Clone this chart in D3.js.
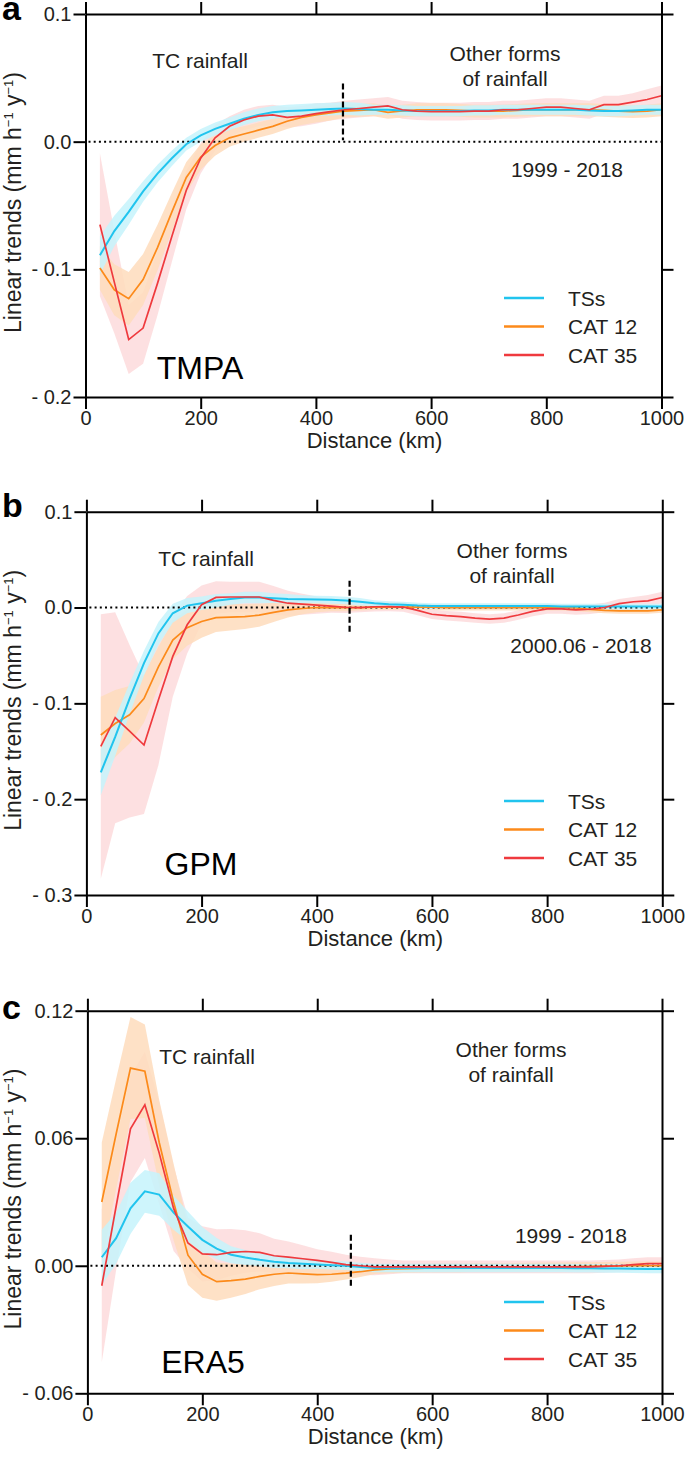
<!DOCTYPE html>
<html><head><meta charset="utf-8">
<script src="https://cdn.jsdelivr.net/npm/d3@7"></script>
<style>body{margin:0;background:#fff}svg{display:block}text{font-family:"Liberation Sans",Arial,sans-serif;fill:#231f20}</style>
</head><body><svg id="chart" width="685" height="1468"></svg>
<script>
// ---------- data ----------
const distance = [25,50,75,100,125,150,175,200,225,250,275,300,325,350,375,400,425,450,475,500,525,550,575,600,625,650,675,700,725,750,775,800,825,850,875,900,925,950,975,1000];
const xTicks = [0,200,400,600,800,1000];
const xTickLabels = ["0","200","400","600","800","1000"];
const seriesNames = ["TSs","CAT 12","CAT 35"];

// Panel a: TMPA
const tmpaTS   = [-0.089,-0.070,-0.055,-0.039,-0.025,-0.013,-0.002,0.005,0.010,0.014,0.018,0.021,0.023,0.024,0.0245,0.025,0.0255,0.026,0.0255,0.025,0.025,0.0245,0.024,0.024,0.024,0.024,0.0245,0.0245,0.025,0.025,0.025,0.025,0.025,0.025,0.0245,0.024,0.024,0.0245,0.025,0.025];
const tmpaTSerr= [0.015,0.012,0.010,0.008,0.007,0.006,0.005,0.005,0.005,0.005,0.005,0.005,0.005,0.005,0.005,0.005,0.005,0.005,0.005,0.004,0.004,0.004,0.004,0.004,0.004,0.004,0.004,0.004,0.004,0.004,0.004,0.004,0.004,0.004,0.004,0.004,0.004,0.004,0.004,0.004];
const tmpaC12  = [-0.099,-0.116,-0.123,-0.108,-0.083,-0.055,-0.028,-0.012,-0.003,0.003,0.006,0.009,0.012,0.016,0.019,0.021,0.0225,0.024,0.0245,0.025,0.023,0.024,0.025,0.025,0.025,0.0245,0.024,0.024,0.024,0.0245,0.025,0.025,0.025,0.025,0.025,0.0245,0.024,0.0235,0.024,0.025];
const tmpaC12err=[0.017,0.020,0.021,0.020,0.018,0.015,0.012,0.010,0.008,0.007,0.006,0.006,0.006,0.006,0.006,0.006,0.006,0.005,0.005,0.005,0.005,0.005,0.005,0.005,0.005,0.005,0.005,0.005,0.005,0.005,0.005,0.005,0.005,0.005,0.005,0.005,0.005,0.005,0.005,0.005];
const tmpaC35  = [-0.065,-0.110,-0.155,-0.146,-0.111,-0.074,-0.038,-0.013,0.003,0.012,0.017,0.020,0.021,0.019,0.020,0.022,0.0235,0.025,0.026,0.027,0.028,0.025,0.024,0.0235,0.0235,0.0235,0.024,0.024,0.025,0.025,0.026,0.027,0.027,0.026,0.025,0.029,0.029,0.031,0.033,0.036];
const tmpaC35err=[0.056,0.040,0.027,0.028,0.025,0.020,0.015,0.012,0.010,0.008,0.008,0.008,0.008,0.008,0.008,0.008,0.007,0.007,0.007,0.007,0.007,0.007,0.007,0.007,0.007,0.007,0.007,0.007,0.007,0.007,0.007,0.007,0.007,0.007,0.007,0.007,0.007,0.007,0.008,0.008];

// Panel b: GPM
const gpmTS    = [-0.172,-0.135,-0.095,-0.058,-0.027,-0.006,0.002,0.0045,0.007,0.009,0.0105,0.0105,0.0098,0.009,0.0087,0.0084,0.008,0.0073,0.006,0.0045,0.0035,0.003,0.002,0.0015,0.0015,0.0015,0.0015,0.0015,0.0015,0.0015,0.0015,0.0015,0.001,0.001,0.001,0.001,0.001,0.001,0.001,0.001];
const gpmTSerr = [0.024,0.020,0.016,0.013,0.012,0.010,0.008,0.007,0.007,0.006,0.006,0.006,0.005,0.005,0.004,0.004,0.004,0.004,0.004,0.003,0.003,0.003,0.003,0.003,0.003,0.003,0.003,0.003,0.003,0.003,0.003,0.003,0.003,0.003,0.003,0.003,0.003,0.003,0.003,0.003];
const gpmC12   = [-0.133,-0.121,-0.112,-0.095,-0.062,-0.034,-0.021,-0.0146,-0.0105,-0.010,-0.0095,-0.008,-0.005,-0.0025,-0.001,0,0,0,0,0.0005,0.0005,0.0005,0.0005,0.0005,0,0,0,0,0,0,0,0,0,-0.0005,-0.002,-0.003,-0.0035,-0.0035,-0.0035,-0.0025];
const gpmC12err= [0.040,0.035,0.030,0.025,0.021,0.020,0.019,0.017,0.015,0.014,0.013,0.012,0.010,0.008,0.006,0.005,0.004,0.004,0.003,0.003,0.003,0.003,0.003,0.003,0.003,0.003,0.003,0.003,0.003,0.003,0.003,0.003,0.003,0.003,0.003,0.003,0.003,0.003,0.003,0.003];
const gpmC35   = [-0.145,-0.115,-0.129,-0.1435,-0.0965,-0.051,-0.018,0.003,0.0105,0.011,0.011,0.011,0.0075,0.0045,0.0035,0.0025,0.0015,0.0003,0,0.0008,0.001,0.0005,-0.003,-0.007,-0.0085,-0.0095,-0.011,-0.012,-0.011,-0.0078,-0.004,-0.0015,-0.0015,-0.0025,-0.0018,0,0.004,0.006,0.007,0.0105];
const gpmC35err= [0.138,0.110,0.090,0.072,0.068,0.042,0.030,0.020,0.017,0.016,0.016,0.016,0.015,0.013,0.011,0.009,0.007,0.006,0.005,0.005,0.005,0.005,0.005,0.005,0.005,0.005,0.005,0.005,0.005,0.005,0.005,0.005,0.005,0.005,0.005,0.005,0.005,0.005,0.006,0.006];

// Panel c: ERA5
const era5TS   = [0.004,0.013,0.027,0.035,0.0335,0.025,0.0185,0.0122,0.0081,0.0052,0.0039,0.0028,0.0019,0.0013,0.0009,0.0006,0.0003,0,-0.0006,-0.001,-0.001,-0.001,-0.001,-0.001,-0.001,-0.001,-0.001,-0.001,-0.001,-0.001,-0.001,-0.001,-0.001,-0.0012,-0.0012,-0.0013,-0.0013,-0.0014,-0.0015,-0.0015];
const era5TSerr= [0.013,0.012,0.012,0.010,0.010,0.008,0.007,0.006,0.005,0.004,0.0035,0.003,0.003,0.0025,0.0025,0.002,0.002,0.002,0.002,0.002,0.002,0.002,0.002,0.002,0.002,0.002,0.002,0.002,0.002,0.002,0.002,0.002,0.002,0.002,0.002,0.002,0.002,0.002,0.002,0.002];
const era5C12  = [0.030,0.062,0.093,0.0915,0.058,0.030,0.005,-0.004,-0.0075,-0.007,-0.0063,-0.005,-0.004,-0.0034,-0.0038,-0.0042,-0.004,-0.0035,-0.0028,-0.0019,-0.0015,-0.0013,-0.0012,-0.001,-0.001,-0.001,-0.0008,-0.0008,-0.0008,-0.0007,-0.0006,-0.0005,-0.0005,-0.0004,-0.0003,-0.0002,-0.0001,0,0,0];
const era5C12err=[0.028,0.026,0.024,0.022,0.020,0.018,0.014,0.011,0.009,0.008,0.007,0.006,0.0055,0.005,0.0045,0.004,0.0035,0.003,0.0025,0.002,0.002,0.002,0.002,0.002,0.002,0.002,0.002,0.002,0.002,0.002,0.002,0.002,0.002,0.002,0.002,0.002,0.002,0.002,0.002,0.002];
const era5C35  = [-0.0094,0.028,0.0644,0.0757,0.053,0.027,0.0107,0.0056,0.0052,0.0063,0.0067,0.0063,0.0047,0.0041,0.0033,0.0025,0.0016,0.0005,0,-0.0005,-0.0005,-0.0005,-0.0005,-0.0005,-0.0005,-0.0005,-0.0005,-0.0005,-0.0005,-0.0005,-0.0005,-0.0005,-0.0005,-0.0005,-0.0005,-0.0003,0,0.0005,0.001,0.001];
const era5C35err=[0.036,0.030,0.025,0.025,0.024,0.020,0.012,0.013,0.012,0.011,0.010,0.009,0.008,0.0073,0.0063,0.0053,0.005,0.0047,0.0043,0.004,0.0035,0.003,0.003,0.003,0.003,0.003,0.003,0.003,0.003,0.003,0.003,0.003,0.003,0.003,0.003,0.003,0.003,0.003,0.003,0.003];

const tmpaYTicks = [0.1,0,-0.1,-0.2], tmpaYLabels = ["0.1","0.0","- 0.1","- 0.2"];
const gpmYTicks  = [0.1,0,-0.1,-0.2,-0.3], gpmYLabels = ["0.1","0.0","- 0.1","- 0.2","- 0.3"];
const era5YTicks = [0.12,0.06,0,-0.06], era5YLabels = ["0.12","0.06","0.00","- 0.06"];

// ---------- styles / layout ----------
const lineColors = ["#21c4ee","#fc8a1a","#ef3a3e"];
const bandColors = ["#c6f3fc","#fedcbc","#fddadc"];

const panels = [
  {letter:"a", letterY:20, name:"TMPA", nameX:200, nameY:379, period:"1999 - 2018", periodX:567, periodY:177,
   left:85.5, right:661.5, top:14, bottom:397, ydom:[-0.2,0.1], yticks:tmpaYTicks, ylabels:tmpaYLabels,
   tcX:200, tcY:68, otherX:505, otherY:61, divider:[447,0.0456,0.0012], legendY:298,
   means:[tmpaTS,tmpaC12,tmpaC35], errs:[tmpaTSerr,tmpaC12err,tmpaC35err]},
  {letter:"b", letterY:517, name:"GPM", nameX:201, nameY:875, period:"2000.06 - 2018", periodX:581, periodY:653,
   left:86.4, right:662.3, top:511.7, bottom:895, ydom:[-0.3,0.1], yticks:gpmYTicks, ylabels:gpmYLabels,
   tcX:206, tcY:566, otherX:512, otherY:558, divider:[457,0.028,-0.0285], legendY:801,
   means:[gpmTS,gpmC12,gpmC35], errs:[gpmTSerr,gpmC12err,gpmC35err]},
  {letter:"c", letterY:1019, name:"ERA5", nameX:203, nameY:1373, period:"1999 - 2018", periodX:571, periodY:1243,
   left:87.4, right:662, top:1010.7, bottom:1393.3, ydom:[-0.06,0.12], yticks:era5YTicks, ylabels:era5YLabels,
   tcX:207, tcY:1064, otherX:511, otherY:1057, divider:[458.5,0.0146,-0.0105], legendY:1302,
   means:[era5TS,era5C12,era5C35], errs:[era5TSerr,era5C12err,era5C35err]}
];

const svg = d3.select("#chart");

panels.forEach(p => {
  const g = svg.append("g");
  const x = d3.scaleLinear().domain([0,1000]).range([p.left,p.right]);
  const y = d3.scaleLinear().domain(p.ydom).range([p.bottom,p.top]);

  // bands (drawn red, orange, cyan)
  [2,1,0].forEach(k => {
    const pts = distance.map((d,i)=>({d, m:p.means[k][i], e:p.errs[k][i]}));
    g.append("path").datum(pts)
      .attr("fill", bandColors[k]).attr("fill-opacity",0.85)
      .attr("d", d3.area().x(v=>x(v.d)).y0(v=>y(v.m-v.e)).y1(v=>y(v.m+v.e)));
  });

  // zero dotted line
  g.append("line").attr("x1",x(0)+3).attr("x2",x(1000)).attr("y1",y(0)).attr("y2",y(0))
    .attr("stroke","#000").attr("stroke-width",2).attr("stroke-dasharray","2,3.2");

  // lines
  [1,0,2].forEach(k => {
    const pts = distance.map((d,i)=>({d, m:p.means[k][i]}));
    g.append("path").datum(pts).attr("fill","none")
      .attr("stroke", lineColors[k]).attr("stroke-width", k===0?2:1.7)
      .attr("d", d3.line().x(v=>x(v.d)).y(v=>y(v.m)));
  });

  // divider
  g.append("line").attr("x1",x(p.divider[0])).attr("x2",x(p.divider[0]))
    .attr("y1",y(p.divider[1])).attr("y2",y(p.divider[2]))
    .attr("stroke","#000").attr("stroke-width",2.2).attr("stroke-dasharray","6,3");

  // axes
  const styleAxis = sel => {
    sel.selectAll(".domain").attr("stroke","#000").attr("stroke-width",2);
    sel.selectAll(".tick line").attr("stroke","#000").attr("stroke-width",2);
    sel.selectAll("text").attr("font-size",20).attr("fill","#231f20")
      .style("font-family",'"Liberation Sans",Arial,sans-serif');
  };
  g.append("g").attr("transform",`translate(0,${p.bottom})`)
    .call(d3.axisBottom(x).tickValues(xTicks).tickSize(12).tickSizeOuter(0).tickPadding(2)
      .tickFormat((d,i)=>xTickLabels[i])).call(styleAxis);
  g.append("g").attr("transform",`translate(0,${p.top})`)
    .call(d3.axisTop(x).tickValues(xTicks).tickSize(12).tickSizeOuter(0).tickFormat("")).call(styleAxis);
  g.append("g").attr("transform",`translate(${p.left},0)`)
    .call(d3.axisLeft(y).tickValues(p.yticks).tickSize(12).tickSizeOuter(0).tickPadding(2)
      .tickFormat((d,i)=>p.ylabels[i])).call(styleAxis);
  g.append("g").attr("transform",`translate(${p.right},0)`)
    .call(d3.axisRight(y).tickValues(p.yticks.filter(v=>v!==0)).tickSize(12).tickSizeOuter(0).tickFormat("")).call(styleAxis);

  // axis titles
  g.append("text").attr("x",(p.left+p.right)/2+1).attr("y",p.bottom+51).attr("text-anchor","middle")
    .attr("font-size",22).text("Distance (km)");
  const yt = g.append("text").attr("transform",`translate(21,${(p.top+p.bottom)/2-3}) rotate(-90)`)
    .attr("text-anchor","middle").attr("font-size",23);
  yt.append("tspan").text("Linear trends (mm h");
  yt.append("tspan").attr("dy",-8).attr("font-size",13).text("\u22121");
  yt.append("tspan").attr("dy",8).text(" y");
  yt.append("tspan").attr("dy",-8).attr("font-size",13).text("\u22121");
  yt.append("tspan").attr("dy",8).text(")");

  // panel letter
  g.append("text").attr("x",2).attr("y",p.letterY).attr("font-size",34).attr("font-weight","bold")
    .style("fill","#000").text(p.letter);

  // annotations
  g.append("text").attr("x",p.tcX).attr("y",p.tcY).attr("text-anchor","middle").attr("font-size",21).text("TC rainfall");
  g.append("text").attr("x",p.otherX).attr("y",p.otherY).attr("text-anchor","middle").attr("font-size",21).text("Other forms");
  g.append("text").attr("x",p.otherX).attr("y",p.otherY+25).attr("text-anchor","middle").attr("font-size",21).text("of rainfall");
  g.append("text").attr("x",p.periodX).attr("y",p.periodY).attr("text-anchor","middle").attr("font-size",21).text(p.period);
  g.append("text").attr("x",p.nameX).attr("y",p.nameY).attr("text-anchor","middle").attr("font-size",32).style("fill","#000").text(p.name);

  // legend
  seriesNames.forEach((s,k) => {
    const ly = p.legendY + k*28.5;
    g.append("line").attr("x1",504).attr("x2",544).attr("y1",ly).attr("y2",ly)
      .attr("stroke",lineColors[k]).attr("stroke-width",2.5);
    g.append("text").attr("x",568).attr("y",ly+7.5).attr("font-size",21).text(s);
  });
});
</script></body></html>
